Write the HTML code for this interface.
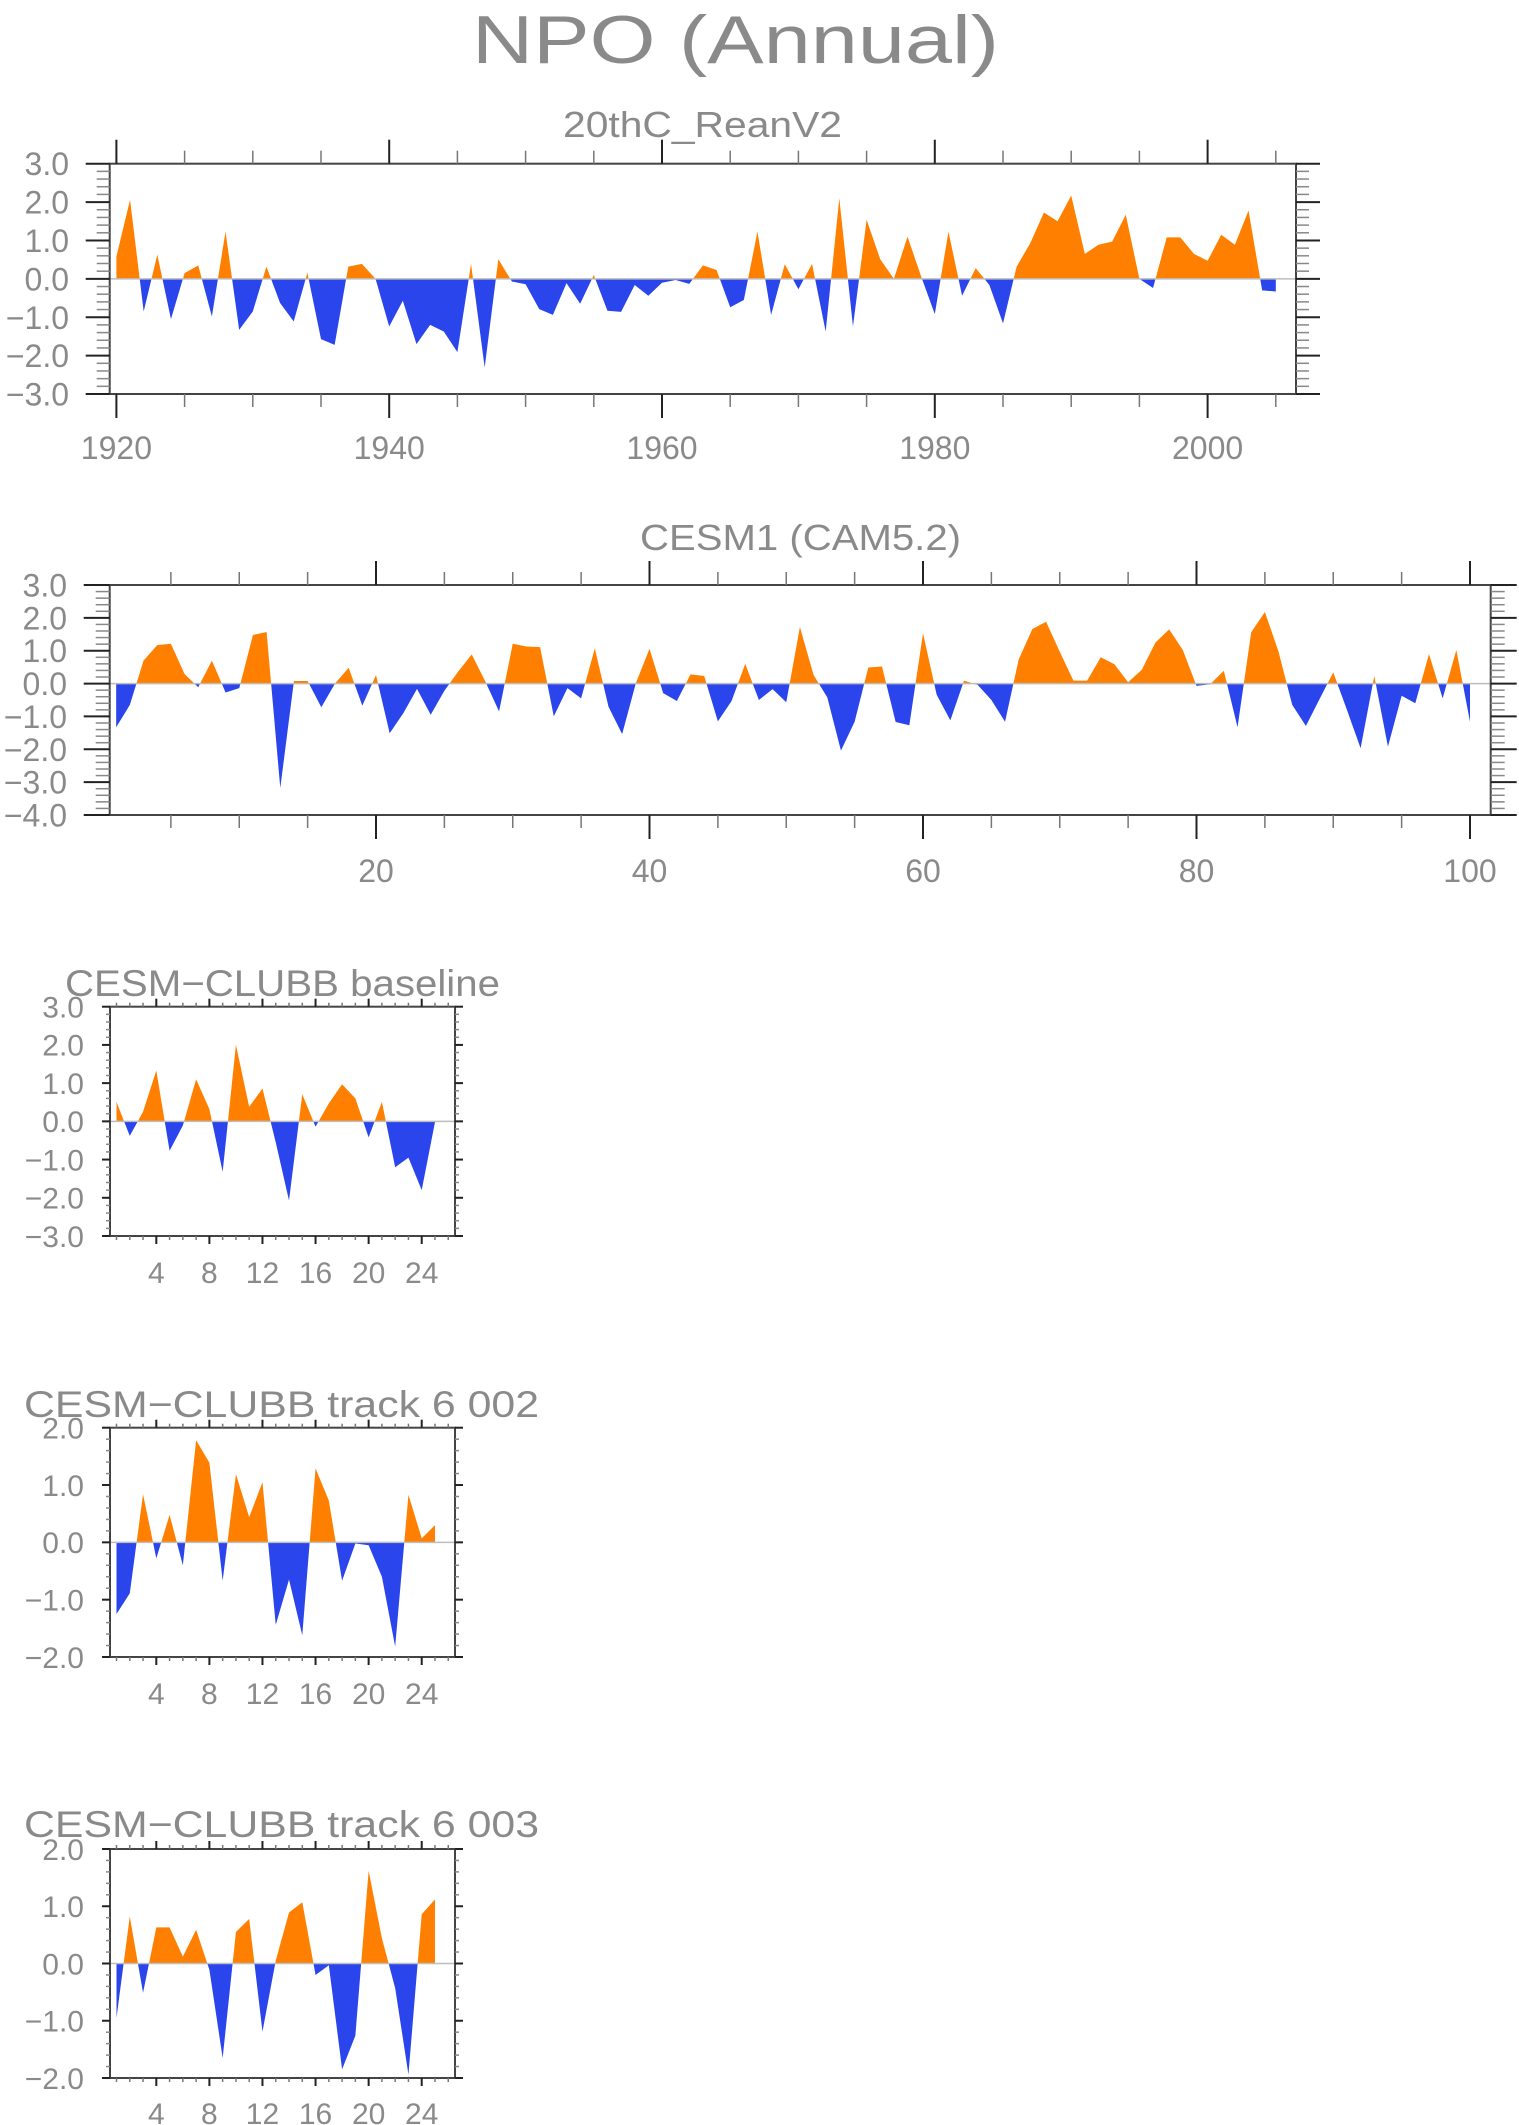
<!DOCTYPE html>
<html><head><meta charset="utf-8"><title>NPO (Annual)</title>
<style>
html,body{margin:0;padding:0;background:#fff;}
svg{display:block;}
text{font-family:"Liberation Sans",sans-serif;fill:#8a8a8a;}
</style></head>
<body>
<svg id="fig" xmlns="http://www.w3.org/2000/svg" width="1519" height="2125" viewBox="0 0 1519 2125">
<text x="472" y="63" font-size="68" textLength="527" lengthAdjust="spacingAndGlyphs" fill="#999">NPO (Annual)</text>
</svg>
<script>
// ---------- data ----------
const reanYears = [];
for (let y = 1920; y <= 2005; y++) reanYears.push(y);
const reanValues = [0.58,2.06,-0.85,0.63,-1.05,0.15,0.35,-0.98,1.23,-1.33,
 -0.85,0.32,-0.63,-1.11,0.16,-1.57,-1.72,0.32,0.39,0.0,
 -1.24,-0.57,-1.70,-1.2,-1.37,-1.91,0.39,-2.31,0.51,-0.07,
 -0.14,-0.79,-0.94,-0.11,-0.65,0.1,-0.83,-0.86,-0.16,-0.44,
 -0.1,-0.03,-0.13,0.35,0.23,-0.74,-0.55,1.23,-0.94,0.38,
 -0.27,0.39,-1.37,2.1,-1.24,1.54,0.51,0.0,1.1,0.06,
 -0.92,1.23,-0.44,0.28,-0.16,-1.16,0.32,0.93,1.73,1.5,
 2.17,0.65,0.89,0.97,1.67,0.0,-0.24,1.08,1.08,0.65,
 0.47,1.15,0.89,1.78,-0.3,-0.33];
const cesm1Values = [-1.33,-0.65,0.70,1.17,1.21,0.29,-0.11,0.70,-0.27,-0.14,
 1.48,1.57,-3.18,0.08,0.08,-0.72,0.0,0.48,-0.67,0.26,
 -1.51,-0.9,-0.16,-0.95,-0.22,0.36,0.89,0.06,-0.85,1.21,
 1.13,1.11,-1.0,-0.14,-0.45,1.07,-0.70,-1.54,0.01,1.06,
 -0.29,-0.53,0.28,0.23,-1.15,-0.53,0.60,-0.50,-0.17,-0.57,
 1.72,0.26,-0.42,-2.04,-1.16,0.49,0.52,-1.17,-1.27,1.53,
 -0.34,-1.12,0.09,-0.04,-0.5,-1.16,0.74,1.66,1.88,0.97,
 0.09,0.09,0.8,0.59,0.04,0.42,1.25,1.65,1.02,-0.07,
 -0.02,0.39,-1.33,1.56,2.18,0.97,-0.65,-1.29,-0.47,0.34,
 -0.8,-1.97,0.23,-1.92,-0.37,-0.6,0.9,-0.45,1.02,-1.16];
const baselineValues = [0.51,-0.38,0.25,1.33,-0.77,-0.11,1.10,0.32,-1.32,2.0,
 0.38,0.86,-0.55,-2.07,0.71,-0.14,0.47,0.97,0.6,-0.42,0.51,-1.2,-0.95,-1.8,-0.02];
const track002Values = [-1.25,-0.89,0.84,-0.28,0.48,-0.40,1.78,1.39,-0.67,1.19,
 0.44,1.05,-1.44,-0.65,-1.62,1.29,0.73,-0.67,-0.02,-0.05,-0.6,-1.82,0.83,0.07,0.30];
const track003Values = [-0.95,0.82,-0.51,0.63,0.63,0.12,0.59,-0.11,-1.65,0.55,
 0.78,-1.19,0.05,0.89,1.07,-0.2,-0.03,-1.85,-1.26,1.62,0.44,-0.43,-1.94,0.86,1.12];
const cesm1X = cesm1Values.map((v,i)=>i+1);
const smallX = baselineValues.map((v,i)=>i+1);
const reanXTicks = [1920,1940,1960,1980,2000];
const cesm1XTicks = [20,40,60,80,100];
const smallXTicks = [4,8,12,16,20,24];
const yTicks3 = [3,2,1,0,-1,-2,-3];
const yTicks4 = [3,2,1,0,-1,-2,-3,-4];
const yTicks2 = [2,1,0,-1,-2];

// ---------- drawing ----------
const NS = "http://www.w3.org/2000/svg";
const svg = document.getElementById("fig");
let clipId = 0;
function mk(tag, parent){ const e = document.createElementNS(NS, tag); parent.appendChild(e); return e; }
function line(g,x1,y1,x2,y2,stroke,w){
  const l = mk("line", g);
  l.setAttribute("x1",x1); l.setAttribute("y1",y1); l.setAttribute("x2",x2); l.setAttribute("y2",y2);
  l.setAttribute("stroke",stroke); l.setAttribute("stroke-width",w);
  return l;
}
function fmt(v){ const s = Math.abs(v).toFixed(1); return v < 0 ? "\u2212" + s : s; }

function panel(cfg){
  const g = mk("g", svg);
  
  
  const {x0,x1,y0,y1,ymin,ymax} = cfg;
  const sx = v => cfg.px0 + (v - cfg.v0) * cfg.pxPer;
  const sy = v => y1 - (v - ymin) / (ymax - ymin) * (y1 - y0);
  const t = mk("text", g);
  
  
  t.setAttribute("x", cfg.tx); t.setAttribute("y", cfg.ty);
  t.setAttribute("font-size", cfg.tfs);
  t.setAttribute("textLength", cfg.tw); t.setAttribute("lengthAdjust", "spacingAndGlyphs");
  t.textContent = cfg.title;
  const id = "c" + (clipId++);
  const defs = mk("defs", g);
  const cpA = mk("clipPath", defs); cpA.setAttribute("id", id + "a");
  const ra = mk("rect", cpA); ra.setAttribute("x", x0); ra.setAttribute("y", y0); ra.setAttribute("width", x1 - x0); ra.setAttribute("height", sy(0) - y0);
  const cpB = mk("clipPath", defs); cpB.setAttribute("id", id + "b");
  const rb = mk("rect", cpB); rb.setAttribute("x", x0); rb.setAttribute("y", sy(0)); rb.setAttribute("width", x1 - x0); rb.setAttribute("height", y1 - sy(0));
  let d = "M" + sx(cfg.xs[0]) + "," + sy(0);
  cfg.ys.forEach((v,i) => { d += " L" + sx(cfg.xs[i]).toFixed(2) + "," + sy(v).toFixed(2); });
  d += " L" + sx(cfg.xs[cfg.xs.length - 1]) + "," + sy(0) + " Z";
  const pa = mk("path", g);
  
  
  pa.setAttribute("d", d); pa.setAttribute("fill", "#ff8000"); pa.setAttribute("clip-path", "url(#" + id + "a)");
  const pb = mk("path", g);
  
  
  pb.setAttribute("d", d); pb.setAttribute("fill", "#2a45ec"); pb.setAttribute("clip-path", "url(#" + id + "b)");
  const zl = line(g, x0, sy(0), x1, sy(0), "#bdbdbd", 1.5);
  
  
  const box = mk("rect", g);
  
  
  box.setAttribute("x", x0); box.setAttribute("y", y0); box.setAttribute("width", x1 - x0); box.setAttribute("height", y1 - y0);
  box.setAttribute("fill", "none"); box.setAttribute("stroke", "#444"); box.setAttribute("stroke-width", 2);
  const xa = mk("g", g);
  
  
  cfg.xMinor.forEach(v => {
    const major = cfg.isMajor(v);
    const L = major ? cfg.xMajLen : cfg.xMinLen;
    const X = sx(v);
    line(xa, X, y0, X, y0 - L, major ? "#222" : "#777", major ? 2 : 1.5);
    line(xa, X, y1, X, y1 + L, major ? "#222" : "#777", major ? 2 : 1.5);
  });
  cfg.xTicks.forEach(v => {
    const lt = mk("text", xa);
    
    
    lt.setAttribute("x", sx(v)); lt.setAttribute("y", cfg.xly);
    lt.setAttribute("font-size", cfg.lfs); lt.setAttribute("text-anchor", "middle");
    lt.textContent = v;
  });
  const ya = mk("g", g);
  
  
  for (let v = ymin; v <= ymax + 1e-6; v += 0.2) {
    const major = Math.abs(v - Math.round(v)) < 1e-6;
    const L = major ? cfg.yMajLen : cfg.yMinLen;
    const Y = sy(v);
    line(ya, x0 - L, Y, x0, Y, major ? "#222" : "#888", major ? 2 : 1.5);
    line(ya, x1, Y, x1 + L, Y, major ? "#222" : "#888", major ? 2 : 1.5);
  }
  cfg.yTicks.forEach(v => {
    const lt = mk("text", ya);
    
    
    lt.setAttribute("x", cfg.ylx); lt.setAttribute("y", sy(v) + cfg.lfs * 0.36);
    lt.setAttribute("font-size", cfg.lfs); lt.setAttribute("text-anchor", "end");
    lt.textContent = fmt(v);
  });
}

const reanMinor = []; for (let y = 1920; y <= 2005; y += 5) reanMinor.push(y);
panel({name:"panel-20thc-reanv2", title:"20thC_ReanV2", tx:563, ty:137, tfs:36, tw:279,
  x0:109.7, x1:1296, y0:163.7, y1:394, ymin:-3, ymax:3,
  px0:116.4, v0:1920, pxPer:13.64, xs:reanYears, ys:reanValues,
  xMinor:reanMinor, isMajor:v=>v%20===0, xTicks:reanXTicks, xly:459,
  xMajLen:24, xMinLen:13, yMajLen:24, yMinLen:13, yTicks:yTicks3, ylx:69, lfs:32});

const c1Minor = []; for (let x = 5; x <= 100; x += 5) c1Minor.push(x);
panel({name:"panel-cesm1-cam5", title:"CESM1 (CAM5.2)", tx:640, ty:550, tfs:36, tw:321,
  x0:109.7, x1:1490.7, y0:585, y1:815, ymin:-4, ymax:3,
  px0:376, v0:20, pxPer:13.675, xs:cesm1X, ys:cesm1Values,
  xMinor:c1Minor, isMajor:v=>v%20===0, xTicks:cesm1XTicks, xly:882,
  xMajLen:24, xMinLen:13, yMajLen:26, yMinLen:14, yTicks:yTicks4, ylx:67, lfs:32});

const smMinor = []; for (let x = 1; x <= 26; x++) smMinor.push(x);
const small = [
  {name:"panel-clubb-baseline", title:"CESM\u2212CLUBB baseline", tx:65, ty:996, tw:435, y0:1006.7, y1:1236, ymin:-3, ymax:3, ys:baselineValues, yTicks:yTicks3, xly:1283},
  {name:"panel-clubb-track-6-002", title:"CESM\u2212CLUBB track 6 002", tx:24, ty:1417, tw:515, y0:1427.7, y1:1657, ymin:-2, ymax:2, ys:track002Values, yTicks:yTicks2, xly:1704},
  {name:"panel-clubb-track-6-003", title:"CESM\u2212CLUBB track 6 003", tx:24, ty:1837, tw:515, y0:1849, y1:2078, ymin:-2, ymax:2, ys:track003Values, yTicks:yTicks2, xly:2124}
];
small.forEach(p => panel(Object.assign({tfs:37, x0:110, x1:455, px0:116.5, v0:1, pxPer:13.27, xs:smallX,
  xMinor:smMinor, isMajor:v=>v%4===0, xTicks:smallXTicks, xMajLen:8, xMinLen:4, yMajLen:8, yMinLen:4, ylx:84, lfs:30}, p)));
</script>
</body></html>
